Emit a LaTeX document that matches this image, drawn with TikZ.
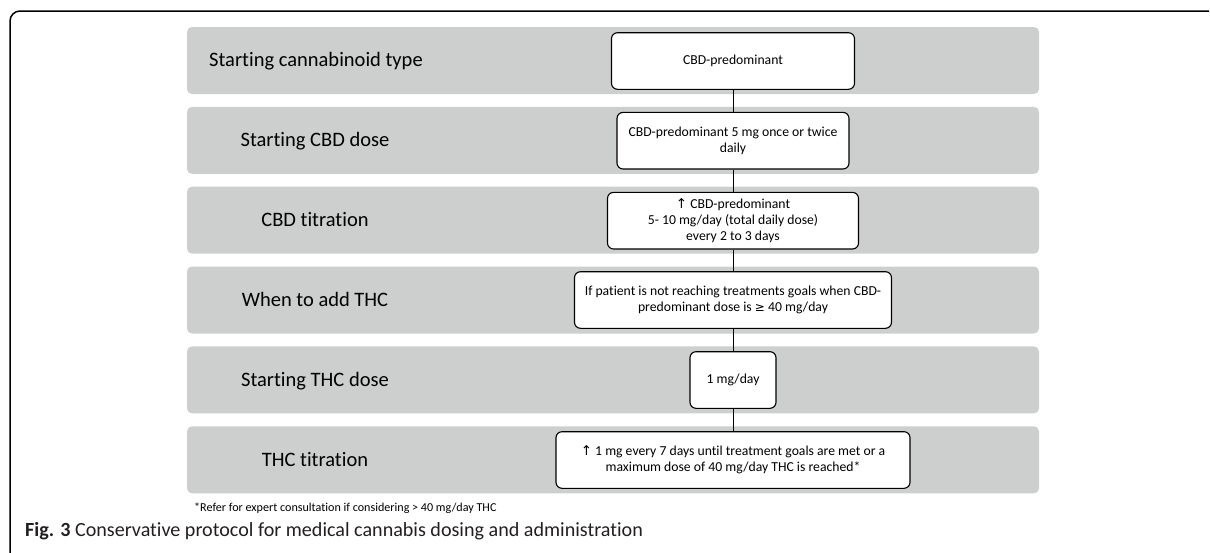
\documentclass[tikz,border=0pt]{standalone}
\usepackage{fontspec}
\setmainfont{Carlito}[Ligatures=NoCommon]
\newfontfamily\djv{DejaVu Sans}
\newcommand{\uparr}{{\djv\fontsize{13.5}{13.5}\selectfont ↑}}
\newcommand{\geqq}{{\djv\fontsize{12}{12}\selectfont ≥}}
\definecolor{bandgray}{RGB}{205,206,206}
\definecolor{captext}{RGB}{35,31,32}
\begin{document}
\begin{tikzpicture}[x=1pt,y=-1pt,
  band/.style={fill=bandgray, rounded corners=5pt, minimum width=852pt, minimum height=67pt, inner sep=0pt, draw=none},
  lab/.style={font=\fontsize{20.5}{24}\selectfont, text=black, inner sep=0pt, anchor=base},
  stepbox/.style={draw=black, line width=1.1pt, fill=white, rounded corners=6pt, minimum height=56.6pt, inner sep=2pt, align=center, font=\fontsize{13.7}{16.3}\selectfont},
  link/.style={line width=1pt, draw=black}]
\useasboundingbox (0,0) rectangle (1210,552);
% frame
\draw[line width=1.5pt, rounded corners=10pt] (10,553) -- (10,11) -- (1209,11);
% bands
\node[band] (band1) at (613,60.5) {};
\node[band] (band2) at (613,140.4) {};
\node[band] (band3) at (613,220.2) {};
\node[band] (band4) at (613,300.0) {};
\node[band] (band5) at (613,379.9) {};
\node[band] (band6) at (613,459.8) {};
% labels
\node[lab] (lab1) at (316,66.7) {Starting cannabinoid type};
\node[lab] (lab2) at (315,146.6) {Starting CBD dose};
\node[lab] (lab3) at (315,226.4) {CBD titration};
\node[lab] (lab4) at (315,306.2) {When to add THC};
\node[lab] (lab5) at (315,386.1) {Starting THC dose};
\node[lab] (lab6) at (315,466.0) {THC titration};
% boxes
\node[stepbox, minimum width=243pt] (b1) at (733,61) {CBD-predominant};
\node[stepbox, minimum width=232pt] (b2) at (733,140.7) {CBD-predominant 5 mg once or twice\\daily};
\node[stepbox, minimum width=251pt] (b3) at (733,220.7) {\uparr\ CBD-predominant\\5- 10 mg/day (total daily dose)\\every 2 to 3 days};
\node[stepbox, minimum width=317pt] (b4) at (733,300) {If patient is not reaching treatments goals when CBD-\\predominant dose is \geqq\ 40 mg/day};
\node[stepbox, minimum width=86pt] (b5) at (733,380) {1 mg/day};
\node[stepbox, minimum width=354pt] (b6) at (733,460) {\uparr\ 1 mg every 7 days until treatment goals are met or a\\maximum dose of 40 mg/day THC is reached*};
% connectors
\draw[link] (b1) -- (b2);
\draw[link] (b2) -- (b3);
\draw[link] (b3) -- (b4);
\draw[link] (b4) -- (b5);
\draw[link] (b5) -- (b6);
% footnote and caption
\node[anchor=base west, font=\fontsize{12.1}{14}\selectfont, inner sep=0pt] (foot) at (194,511) {*Refer for expert consultation if considering > 40 mg/day THC};
\node[anchor=base west, font=\fontsize{20.1}{22}\selectfont, text=captext, inner sep=0pt] (cap) at (25,536) {\textbf{Fig. 3} Conservative protocol for medical cannabis dosing and administration};
\end{tikzpicture}
\end{document}
